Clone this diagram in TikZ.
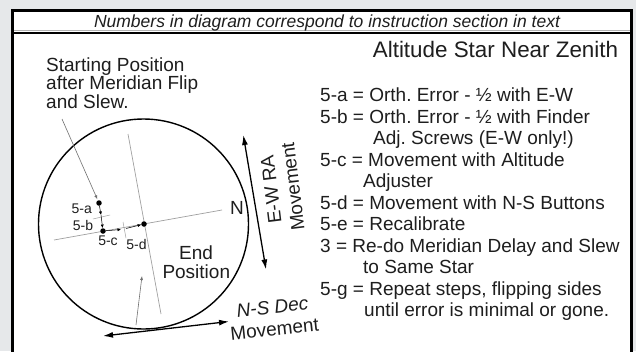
\documentclass[tikz,border=0pt]{standalone}
\usepackage{fontspec}
\setmainfont{Liberation Sans}
\usetikzlibrary{arrows.meta,positioning}
\definecolor{pagegray}{HTML}{E6E8EA}
\definecolor{axisgray}{HTML}{A0A0A0}
\definecolor{inkdark}{HTML}{1E1E1E}
\frenchspacing

\begin{document}
\begin{tikzpicture}[x=1pt,y=-1pt,
  txt/.style    ={inner sep=0pt,text=inkdark,font=\fontsize{19}{19}\selectfont},
  keyline/.style={txt,anchor=base west},
  movelbl/.style={txt,align=center,font=\fontsize{19}{22}\selectfont},
  tag/.style    ={inner sep=0pt,text=inkdark,font=\fontsize{14}{14}\selectfont},
  axis/.style   ={draw=axisgray,line width=0.7pt},
  dot/.style    ={circle,fill=black,inner sep=0pt,minimum size=5.5pt},
  tinyarr/.style={-{Latex[length=3.5pt,width=3pt]},line width=0.5pt},
  movearr/.style={{Latex[length=10pt,width=6pt]}-{Latex[length=10pt,width=6pt]},line width=1.3pt},
  lead/.style   ={-{Latex[length=4pt,width=3pt]},draw=axisgray!70!black,line width=0.6pt}
]
%% page and frame
\fill[pagegray] (0,0) rectangle (636,351);
\useasboundingbox (0,0) rectangle (636,351);
\fill[white] (12,10) rectangle (632,360);
\draw[line width=2.5pt] (12.5,360) -- (12.5,10.5) -- (631.5,10.5) -- (631.5,360);
\draw[gray!60,line width=1pt] (14,30.5) -- (630,30.5);
\draw[line width=2pt] (12,32.5) -- (632,32.5);
%% header and title
\node[txt,anchor=base,font=\fontsize{17.5}{17.5}\selectfont\itshape] (note) at (327,27.5)
  {Numbers in diagram correspond to instruction section in text};
\node[txt,anchor=base,font=\fontsize{22.4}{22.4}\selectfont] (title) at (495.5,57)
  {Altitude Star Near Zenith};
%% starting position text
\node[keyline] (start1) at (46,71)  {Starting Position};
\node[keyline] (start2) at (46,89.5){after Meridian Flip};
\node[keyline] (start3) at (46,108) {and Slew.};
%% field of view
\node[draw,circle,line width=1.4pt,minimum size=210pt,inner sep=0pt] (fov) at (143.5,224) {};
\coordinate (hax1) at (54,240);
\coordinate (hax2) at (222,210);
\coordinate (vax1) at (128,134);
\coordinate (vax2) at (161,314);
\draw[axis] (hax1) -- (hax2);
\draw[axis] (vax1) -- (vax2);
\coordinate (btick1) at (93,219);
\coordinate (btick2) at (110,215);
\coordinate (ctick1) at (123,222);
\coordinate (ctick2) at (126,238);
\draw[axis,line width=0.5pt] (btick1) -- (btick2);
\draw[axis,line width=0.5pt] (ctick1) -- (ctick2);
%% star positions
\node[dot] (sdot) at (99,203)  {};
\node[dot] (mdot) at (103,231) {};
\node[dot] (edot) at (144,224) {};
\coordinate (abend)  at (101,215);
\coordinate (cend)   at (121,229.5);
\coordinate (dstart) at (126,228.5);
\draw[tinyarr] (sdot) -- (abend);
\draw[tinyarr] (abend) -- (mdot);
\draw[tinyarr] (mdot) -- (cend);
\draw[tinyarr] (dstart) -- (edot);
\node[tag] (taga) at (81.7,209)   {5-a};
\node[tag] (tagb) at (83,225)     {5-b};
\node[tag] (tagc) at (108,241)    {5-c};
\node[tag] (tagd) at (136.5,244.5){5-d};
%% leaders
\coordinate (leadtop) at (62,119);
\draw[lead,shorten >=4pt] (leadtop) -- (sdot.center);
\coordinate (bleadfoot) at (136,325);
\coordinate (bleadtip)  at (142,276);
\draw[lead] (bleadfoot) -- (bleadtip);
\node[txt,anchor=base] (endlbl) at (196,259)   {End};
\node[txt,anchor=base] (poslbl) at (196.3,278) {Position};
\node[txt] (north) at (237,208) {N};
%% movement arrows
\coordinate (ewtop) at (243.3,135);
\coordinate (ewbot) at (266,269.5);
\draw[movearr] (ewtop) -- (ewbot);
\node[movelbl,rotate=97] (ewlbl) at (282,188) {E-W RA\\Movement};
\coordinate (nsleft)  at (103,336);
\coordinate (nsright) at (229,321.5);
\draw[movearr] (nsleft) -- (nsright);
\node[movelbl,rotate=6] (nslbl) at (273.5,318) {{\itshape N-S Dec}\\Movement};
%% key
\node[keyline] (key1)  at (320,101.5) {5-a = Orth. Error - ½ with E-W};
\node[keyline] (key2)  at (320,123)   {5-b = Orth. Error - ½ with Finder};
\node[keyline] (key3)  at (373,144.5) {Adj. Screws (E-W only!)};
\node[keyline] (key4)  at (320,166)   {5-c = Movement with Altitude};
\node[keyline] (key5)  at (363,187.5) {Adjuster};
\node[keyline] (key6)  at (320,209)   {5-d = Movement with N-S Buttons};
\node[keyline] (key7)  at (320,230.5) {5-e = Recalibrate};
\node[keyline] (key8)  at (320,252)   {3 = Re-do Meridian Delay and Slew};
\node[keyline] (key9)  at (363,273.5) {to Same Star};
\node[keyline] (key10) at (320,295)   {5-g = Repeat steps, flipping sides};
\node[keyline] (key11) at (364,316.5) {until error is minimal or gone.};
\end{tikzpicture}
\end{document}
